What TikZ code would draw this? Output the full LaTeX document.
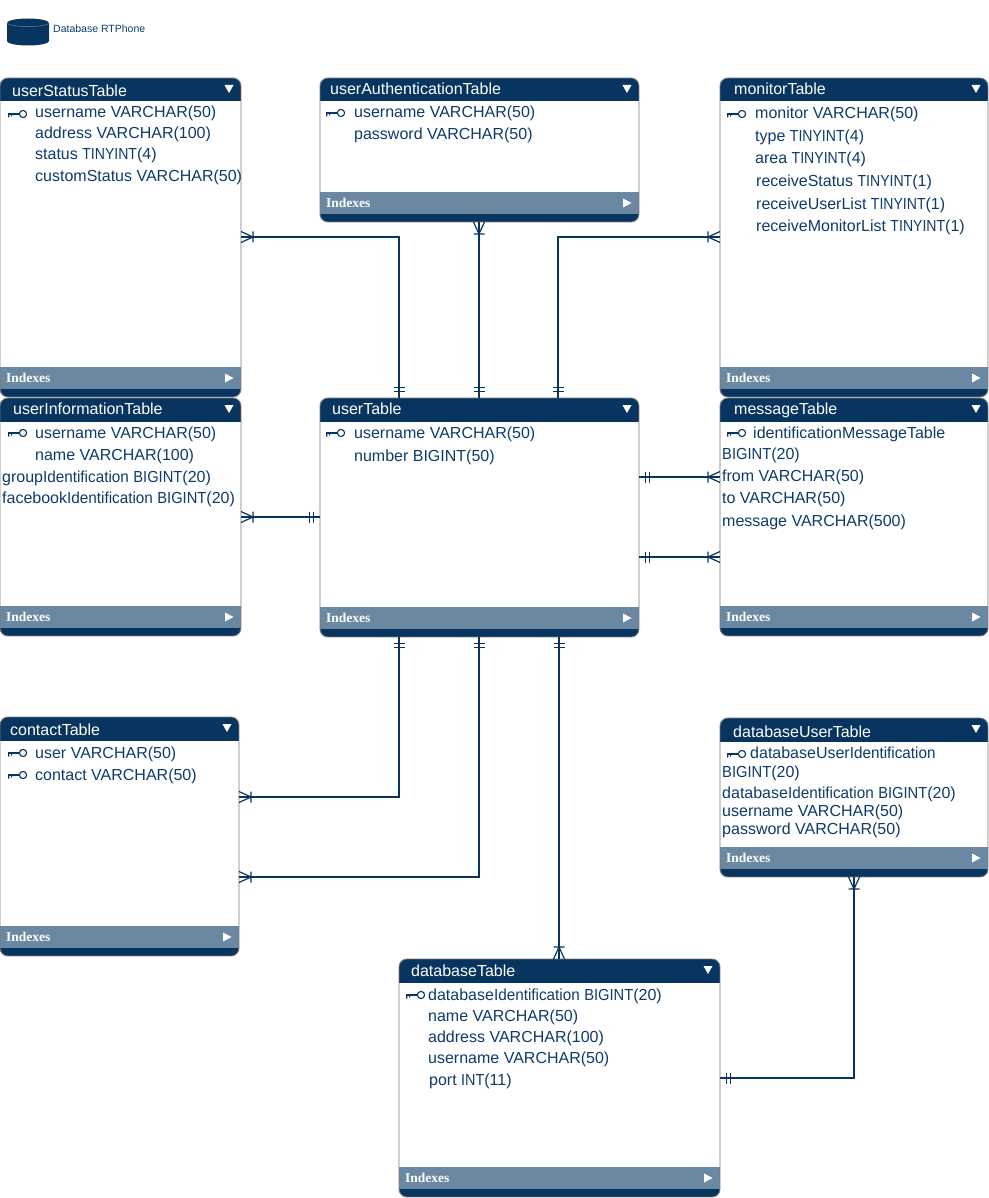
\documentclass[tikz,border=0pt]{standalone}
\usepackage{fontspec}
\setmainfont{Liberation Sans}
\newfontfamily\idxfont{Liberation Serif}
\usepackage{xcolor}
\usepackage{graphicx}
\usetikzlibrary{calc,decorations.markings}
\definecolor{navy}{HTML}{07355F}
\definecolor{band}{HTML}{6B88A3}
\definecolor{edge}{HTML}{777777}
\definecolor{rowtext}{HTML}{0F3B6C}
\newcommand{\crowmark}[1]{\draw[navy, line width=1.2pt] (0,-5.5) -- (0,5.5) (#1,-5.5) -- (0,0) -- (#1,5.5);}
\newcommand{\barmark}{\draw[navy, line width=1.2pt] (0,-5.5) -- (0,5.5);}
\newcommand{\ti}{\scalebox{0.88}[1]{TINYINT}}
\newcommand{\bi}{\scalebox{0.92}[1]{BIGINT}}
\newcommand{\ii}{\scalebox{0.955}[1]{Identification}}
\tikzset{
  tbl/.style={draw=edge, fill=white, line width=0.9pt, rounded corners=8pt, inner sep=0pt, outer sep=0pt, anchor=north west},
  titletext/.style={text=white, anchor=west, inner sep=0pt, yshift=-1.5pt, text height=11pt, text depth=3pt, font=\fontsize{16}{18}\selectfont},
  idx/.style={text=white, anchor=west, inner sep=0pt, font=\idxfont\bfseries\fontsize{13.5}{15}\selectfont},
  rowtxt/.style={text=rowtext, anchor=west, inner sep=0pt, yshift=-1pt, text height=11pt, text depth=3pt, font=\fontsize{16}{18}\selectfont},
  captext/.style={text=rowtext, anchor=west, inner sep=0pt, font=\fontsize{10.5}{13}\selectfont},
  rel/.style={draw=navy, line width=1.5pt},
  manyone/.style={rel, postaction={decorate}, decoration={markings,
    mark=at position 12pt with {\crowmark{-12}},
    mark=at position -6.5pt with {\barmark},
    mark=at position -10.5pt with {\barmark}}},
  onemany/.style={rel, postaction={decorate}, decoration={markings,
    mark=at position 6.5pt with {\barmark},
    mark=at position 10.5pt with {\barmark},
    mark=at position -12pt with {\crowmark{12}}}},
  keyicon/.pic={
    \draw[navy, line width=1.1pt] (0,0) -- (12,0);
    \draw[navy, line width=1.1pt, fill=white] (15,0) circle (3.6);
    \fill[navy] (0,-0.5) rectangle (1.4,3.5) (3,0) rectangle (4.2,2.5);
  },
}
% table frame: name, x, y, width, height, title offset, title
\newcommand{\ertable}[7]{
  \node[tbl, minimum width=#4pt, minimum height=#5pt, path picture={
    \fill[navy, sharp corners] (path picture bounding box.north west) rectangle ($(path picture bounding box.north east)+(0,23.5)$);
    \fill[band, sharp corners] ($(path picture bounding box.south west)+(0,-30)$) rectangle ($(path picture bounding box.south east)+(0,-8)$);
    \fill[navy, sharp corners] ($(path picture bounding box.south west)+(0,-8)$) rectangle (path picture bounding box.south east);
  }] (#1) at (#2,#3) {};
  \node[titletext] (#1title) at ($(#1.north west)+(#6)$) {#7};
  \node[idx] (#1idx) at ($(#1.south west)+(6,-19)$) {Indexes};
  \fill[white] ($(#1.north east)+(-16.5,7)$) -- ++(9,0) -- ++(-4.5,8) -- cycle;
  \fill[white] ($(#1.south east)+(-16,-23.5)$) -- ++(8.5,4.5) -- ++(-8.5,4.5) -- cycle;
}
% rows: name, list of x/y/text
\newcommand{\errows}[2]{
  \foreach \rx/\ry/\rtxt [count=\ri] in {#2} {\node[rowtxt] (#1r\ri) at (\rx,\ry) {\rtxt};}
}

\begin{document}
\begin{tikzpicture}[x=1pt, y=-1pt]
  \useasboundingbox (0,0) rectangle (988,1198);

  % logo
  \fill[navy] (7,23) -- (7,41) arc[start angle=180, end angle=360, x radius=21, y radius=-4.5] -- (49,23) arc[start angle=0, end angle=180, x radius=21, y radius=-4.5] -- cycle;
  \draw[band, line width=0.5pt] (7,23) arc[start angle=180, end angle=360, x radius=21, y radius=-3.5];
  \node[captext] (dbname) at (53,28.5) {Database RTPhone};

  % tables
  \ertable{userStatusTable}{0}{78}{241}{319}{12,13}{userStatusTable}
  \ertable{userAuthenticationTable}{320}{78}{319}{144}{10,11}{userAuthenticationTable}
  \ertable{monitorTable}{720}{78}{268}{319}{14,11}{monitorTable}
  \ertable{userInformationTable}{0}{398}{241}{238}{13,11}{userInformationTable}
  \ertable{userTable}{320}{398}{319}{239}{12,11}{userTable}
  \ertable{messageTable}{720}{398}{268}{238}{14,11}{messageTable}
  \ertable{contactTable}{0}{717}{239}{239}{10,13}{contactTable}
  \ertable{databaseUserTable}{720}{718}{268}{159}{13,14}{databaseUserTable}
  \ertable{databaseTable}{399}{959}{321}{238}{12,12}{databaseTable}

  % rows
  \errows{userStatusTable}{35/113/username VARCHAR(50), 35/134/address VARCHAR(100), 35/155/status \ti(4), 35/176.5/customStatus VARCHAR(50)}
  \errows{userAuthenticationTable}{354/113/username VARCHAR(50), 354/135/password VARCHAR(50)}
  \errows{monitorTable}{755/114/monitor VARCHAR(50), 755/136.5/type \ti(4), 755/158.5/area \ti(4), 756/181.5/receiveStatus \ti(1), 756/204.5/receiveUserList \ti(1), 756/227/receiveMonitorList \ti(1)}
  \errows{userInformationTable}{35/433/username VARCHAR(50), 35/455/name VARCHAR(100), 2/477/group\ii\ \bi(20), 2/498/facebook\ii\ \bi(20)}
  \errows{userTable}{354/433/username VARCHAR(50), 354/456/number BIGINT(50)}
  \errows{messageTable}{753/433.5/identificationMessageTable, 722/454/\bi(20), 722/476/from VARCHAR(50), 722/498/to VARCHAR(50), 722/521/message VARCHAR(500)}
  \errows{contactTable}{35/753/user VARCHAR(50), 35/775/contact VARCHAR(50)}
  \errows{databaseUserTable}{750/753.5/databaseUser\ii, 722/772/\bi(20), 722/793/database\ii\ \bi(20), 722/811/username VARCHAR(50), 722/829/password VARCHAR(50)}
  \errows{databaseTable}{428/995/database\ii\ \bi(20), 428/1016/name VARCHAR(50), 428/1037/address VARCHAR(100), 428/1058/username VARCHAR(50), 429/1080/port \scalebox{0.9}[1]{INT}(11)}

  % keys
  \foreach \kx/\ky in {8/114,326/113,727/114,8/433,326/433,727/433,8/753,8/775,727/754,406/995} {\pic at (\kx,\ky) {keyicon};}

  % bends
  \coordinate (bendA) at (399,237);
  \coordinate (bendB) at (558,237);
  \coordinate (bendC) at (399,797);
  \coordinate (bendD) at (479,877);
  \coordinate (bendE) at (854,1078);
  \coordinate (midA) at (479,300);
  \coordinate (midB) at (559,800);
  \coordinate (levA) at (500,517);
  \coordinate (levB) at (680,477);
  \coordinate (levC) at (680,557);

  % relations
  \draw[manyone] (userStatusTable.east |- bendA) -- (bendA) -- (userTable.north -| bendA);
  \draw[manyone] (userAuthenticationTable.south -| midA) -- (userTable.north -| midA);
  \draw[manyone] (monitorTable.west |- bendB) -- (bendB) -- (userTable.north -| bendB);
  \draw[manyone] (userInformationTable.east |- levA) -- (userTable.west |- levA);
  \draw[onemany] (userTable.east |- levB) -- (messageTable.west |- levB);
  \draw[onemany] (userTable.east |- levC) -- (messageTable.west |- levC);
  \draw[onemany] (userTable.south -| bendC) -- (bendC) -- (contactTable.east |- bendC);
  \draw[onemany] (userTable.south -| bendD) -- (bendD) -- (contactTable.east |- bendD);
  \draw[onemany] (userTable.south -| midB) -- (databaseTable.north -| midB);
  \draw[onemany] (databaseTable.east |- bendE) -- (bendE) -- (databaseUserTable.south -| bendE);
\end{tikzpicture}
\end{document}
